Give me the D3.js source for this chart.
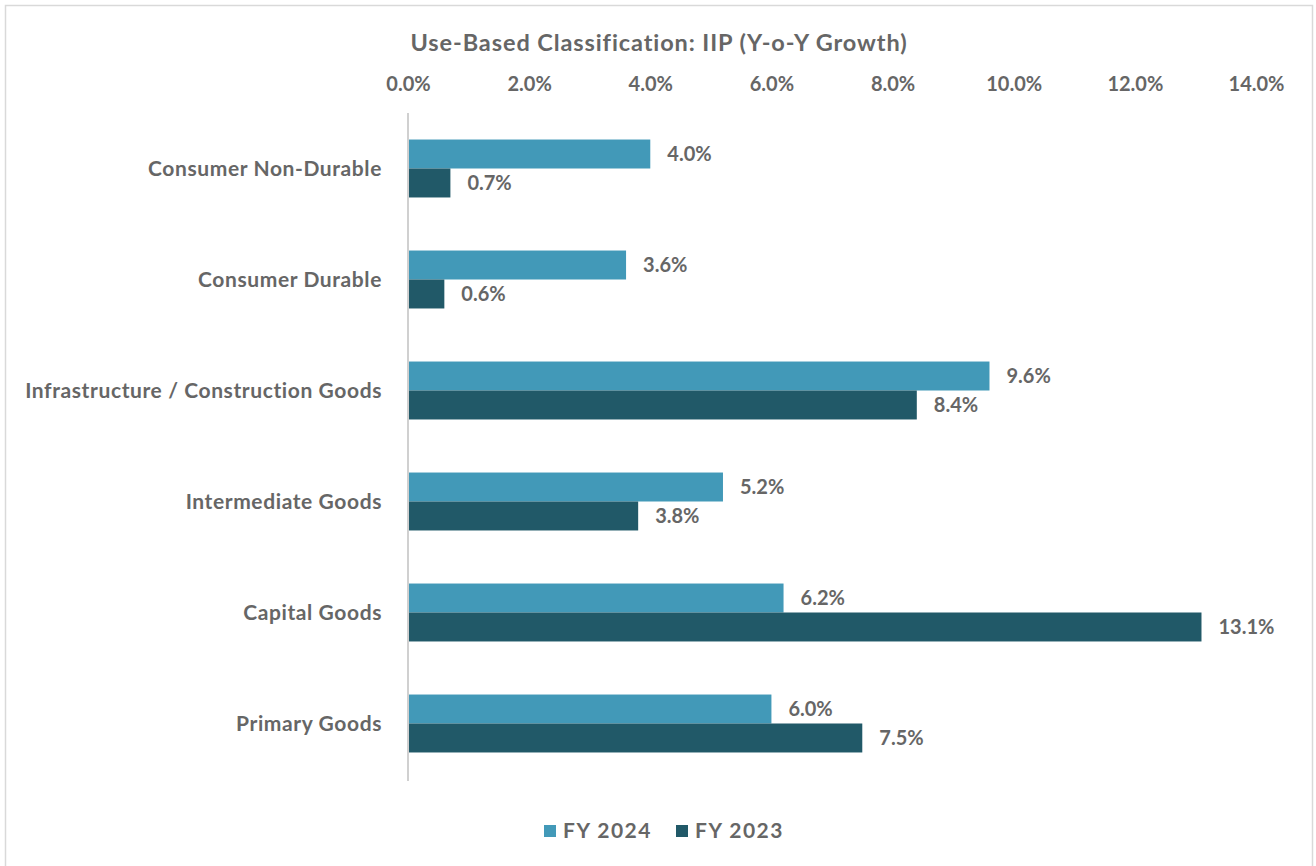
<!DOCTYPE html>
<html>
<head>
<meta charset="utf-8">
<script src="https://cdn.jsdelivr.net/npm/d3@7"></script>
<style>
  body { margin: 0; background: #fff; }
  svg text { font-family: "Lato", "Open Sans", sans-serif; font-weight: bold; fill: #666666; }
</style>
</head>
<body>
<div id="chart"></div>
<script>
// data
const categories = ["Consumer Non-Durable", "Consumer Durable", "Infrastructure / Construction Goods",
  "Intermediate Goods", "Capital Goods", "Primary Goods"];
const seriesNames = ["FY 2024", "FY 2023"];
const fy2024 = [4.0, 3.6, 9.6, 5.2, 6.2, 6.0];
const fy2023 = [0.7, 0.6, 8.4, 3.8, 13.1, 7.5];
const tickValues = [0, 2, 4, 6, 8, 10, 12, 14];
const colors = ["#4299b8", "#215968"];

const width = 1316, height = 866;
const margin = { top: 113, right: 60, bottom: 87, left: 408 };

const svg = d3.select("#chart").append("svg")
  .attr("width", width).attr("height", height);

// outer border
svg.append("rect")
  .attr("x", 5.5).attr("y", 5.5)
  .attr("width", width - 9).attr("height", height + 10)
  .attr("fill", "none").attr("stroke", "#d9d9d9").attr("stroke-width", 1.5);

const x = d3.scaleLinear().domain([0, 14]).range([margin.left, width - margin.right]);
const y = d3.scaleBand().domain(categories).range([margin.top, height - margin.bottom]).paddingInner(0.478).paddingOuter(0.239);
const y1 = d3.scaleBand().domain(seriesNames).range([0, y.bandwidth()]);

// title
svg.append("text")
  .attr("x", 659).attr("y", 51)
  .attr("text-anchor", "middle")
  .style("font-size", "23.5px")
  .style("letter-spacing", "0.9px")
  .text("Use-Based Classification: IIP (Y-o-Y Growth)");

// top axis labels
const xAxis = svg.append("g")
  .attr("transform", `translate(0,${margin.top - 19})`)
  .call(d3.axisTop(x).tickValues(tickValues).tickFormat(d => d3.format(".1f")(d) + "%").tickSize(0));
xAxis.select(".domain").remove();
xAxis.selectAll("text").style("font-size", "20px").attr("fill", "#666666");

// vertical axis line
svg.append("line")
  .attr("x1", x(0)).attr("x2", x(0))
  .attr("y1", margin.top).attr("y2", height - margin.bottom + 2)
  .attr("stroke", "#d0d0d0").attr("stroke-width", 2);

// category labels
svg.selectAll(".cat").data(categories).enter().append("text")
  .attr("class", "cat")
  .attr("x", x(0) - 26)
  .attr("y", d => y(d) + y.bandwidth() / 2)
  .attr("dy", "0.35em")
  .attr("text-anchor", "end")
  .style("font-size", "21px")
  .style("letter-spacing", "0.6px")
  .text(d => d);

const rows = categories.map((c, i) => ({ cat: c, vals: [fy2024[i], fy2023[i]] }));

const groups = svg.selectAll(".grp").data(rows).enter().append("g")
  .attr("class", "grp")
  .attr("transform", d => `translate(0,${y(d.cat)})`);

groups.selectAll("rect").data(d => d.vals.map((v, j) => ({ v, s: seriesNames[j], j }))).enter()
  .append("rect")
  .attr("x", x(0) + 1)
  .attr("y", d => y1(d.s))
  .attr("width", d => x(d.v) - x(0) - 1)
  .attr("height", y1.bandwidth())
  .attr("fill", d => colors[d.j]);

groups.selectAll(".val").data(d => d.vals.map((v, j) => ({ v, s: seriesNames[j] }))).enter()
  .append("text")
  .attr("class", "val")
  .attr("x", d => x(d.v) + 17)
  .attr("y", d => y1(d.s) + y1.bandwidth() / 2)
  .attr("dy", "0.35em")
  .style("font-size", "20px")
  .text(d => d3.format(".1f")(d.v) + "%");

// legend
const legend = svg.append("g").attr("transform", "translate(544,831)");
const legX = [0, 132];
seriesNames.forEach((s, i) => {
  const g = legend.append("g").attr("transform", `translate(${legX[i]},0)`);
  g.append("rect").attr("x", 0).attr("y", -6).attr("width", 12).attr("height", 12).attr("fill", colors[i]);
  g.append("text").attr("x", 19).attr("y", 0).attr("dy", "0.35em")
    .style("font-size", "21px").style("letter-spacing", "1.5px").text(s);
});
</script>
</body>
</html>
